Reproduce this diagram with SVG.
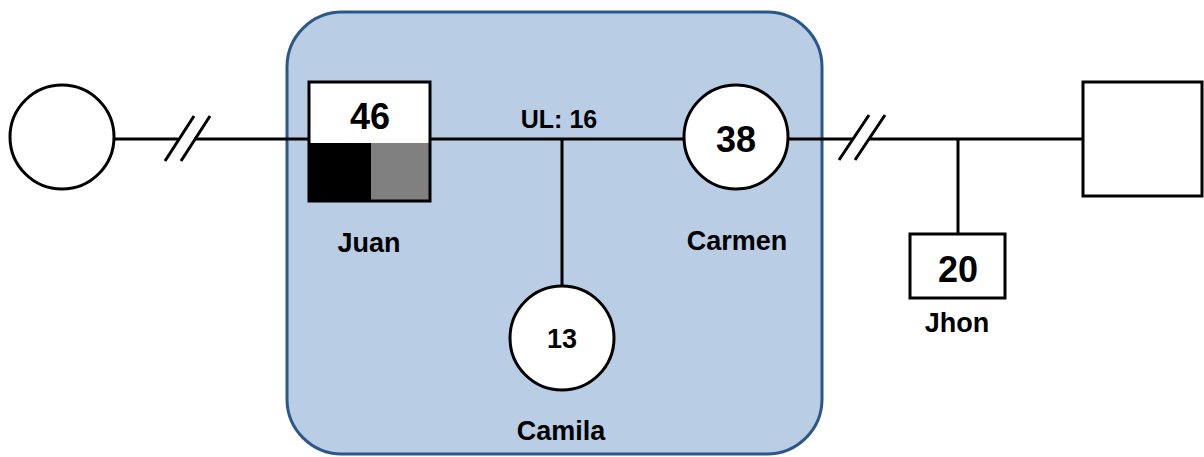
<svg xmlns="http://www.w3.org/2000/svg" width="1204" height="457" viewBox="0 0 1204 457">
<style>
.ln{stroke:#000;stroke-width:3;fill:none}
.sym{stroke:#000;stroke-width:3;fill:#fff}
.t{font-family:"Liberation Sans",Arial,sans-serif;font-weight:bold;fill:#000;text-anchor:middle}
.age{font-size:36px}
.nm{font-size:27px}
</style>
<rect id="household" x="287" y="12" width="535" height="442" rx="55" ry="55" fill="#B9CDE5" stroke="#2C5789" stroke-width="3"/>
<g id="connectors">
<line class="ln" x1="114" y1="139" x2="178" y2="139"/>
<line class="ln" x1="194" y1="139" x2="309" y2="139"/>
<line class="ln" x1="165" y1="161" x2="194" y2="116"/>
<line class="ln" x1="181" y1="161" x2="210" y2="116"/>
<line class="ln" x1="430" y1="139" x2="683" y2="139"/>
<line class="ln" x1="562" y1="139" x2="562" y2="285"/>
<line class="ln" x1="789" y1="139" x2="853" y2="139"/>
<line class="ln" x1="869" y1="139" x2="1083" y2="139"/>
<line class="ln" x1="839" y1="160" x2="869" y2="115"/>
<line class="ln" x1="855" y1="160" x2="885" y2="115"/>
<line class="ln" x1="958" y1="139" x2="958" y2="234"/>
</g>
<text class="t" x="559" y="128" font-size="25">UL: 16</text>
<g id="ex-partner-left">
<circle class="sym" cx="62" cy="137" r="52"/>
</g>
<g id="juan">
<rect x="309" y="82" width="121" height="61" fill="#fff"/>
<rect x="309" y="143" width="62" height="58" fill="#000"/>
<rect x="371" y="143" width="59" height="58" fill="#808080"/>
<rect x="309" y="82" width="121" height="119" class="ln"/>
<text class="t age" x="370" y="129">46</text>
<text class="t nm" x="369" y="252">Juan</text>
</g>
<g id="carmen">
<circle class="sym" cx="736" cy="137" r="52"/>
<text class="t age" x="736" y="152">38</text>
<text class="t nm" x="737" y="250">Carmen</text>
</g>
<g id="camila">
<circle class="sym" cx="562" cy="338" r="52"/>
<text class="t" x="562" y="348" font-size="27">13</text>
<text class="t nm" x="561" y="440">Camila</text>
</g>
<g id="ex-partner-right">
<rect class="sym" x="1083" y="82" width="119" height="114"/>
</g>
<g id="jhon">
<rect class="sym" x="910" y="234" width="95" height="64"/>
<text class="t age" x="958" y="282">20</text>
<text class="t nm" x="957" y="332">Jhon</text>
</g>
</svg>
